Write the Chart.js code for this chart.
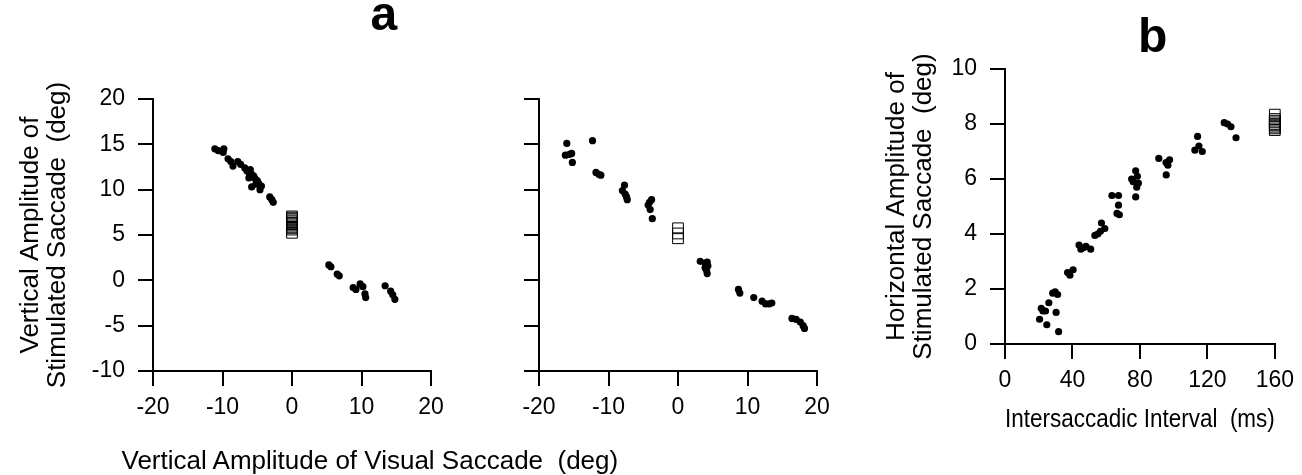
<!DOCTYPE html>
<html>
<head>
<meta charset="utf-8">
<script src="https://cdn.jsdelivr.net/npm/chart.js@4"></script>
<style>
  body { margin: 0; background: #fff; }
  #wrap { position: relative; width: 1302px; height: 475px; overflow: hidden; font-family: 'Liberation Sans', Arial, sans-serif; }
  canvas { position: absolute; top: 0; }
  .lbl { position: absolute; color: #000; white-space: nowrap; line-height: 1; }
</style>
</head>
<body>
<div id="wrap">
  <canvas id="aLeft" width="460" height="475" style="left:0"></canvas>
  <canvas id="aRight" width="400" height="475" style="left:460px"></canvas>
  <canvas id="bChart" width="442" height="475" style="left:860px"></canvas>
  <div class="lbl" id="titleA" style="top:-10px;font-size:48px;font-weight:bold">a</div>
  <div class="lbl" style="left:1138px;top:12px;font-size:48px;font-weight:bold">b</div>
  <div class="lbl" id="xTitleA" style="top:447px;font-size:26px">Vertical Amplitude of Visual Saccade&nbsp;&nbsp;(deg)</div>
</div>
<script>
// panel a, left: visual vs stimulated vertical amplitude (deg)
const aLeftX = [-11.1, -10.6, -9.8, -9.9, -9.2, -8.8, -8.5, -7.8, -7.4, -6.8, -6.5, -6.2, -6.0, -5.8, -5.5, -5.3, -6.2, -5.0, -4.8, -5.8, -4.6, -5.2, -4.4, -3.2, -2.9, -2.7,
  5.3, 5.6, 6.5, 6.8, 8.8, 9.2, 9.8, 10.2, 10.5, 10.6, 13.4, 14.2, 14.5, 14.8]
const aLeftY = [14.5, 14.3, 14.5, 14.1, 13.4, 13.1, 12.6, 13.1, 12.8, 12.4, 12.1, 11.9, 12.2, 11.7, 11.5, 11.2, 11.3, 11.0, 10.7, 10.3, 10.0, 10.6, 10.4, 9.2, 8.9, 8.6,
  1.7, 1.5, 0.7, 0.5, -0.8, -1.0, -0.4, -0.7, -1.5, -1.9, -0.6, -1.2, -1.6, -2.1]
const aLeftSquareY = [7.05, 6.92, 6.8, 6.62, 6.5, 6.33, 6.2, 6.05, 5.9, 5.78, 5.6, 5.24]

// panel a, right
const aRightX = [-16.0, -16.2, -15.6, -15.3, -15.2, -12.3, -11.8, -11.4, -11.1, -7.7, -8.0, -7.6, -7.4, -7.3, -3.8, -4.1, -4.3, -4.0, -3.7,
  3.2, 3.9, 4.2, 4.3, 3.9, 4.1, 4.2, 8.7, 8.9, 10.9, 12.1, 12.6, 13.1, 13.5, 16.4, 17.0, 17.6, 18.0, 18.2]
const aRightY = [15.1, 13.8, 13.9, 14.0, 13.0, 15.4, 11.9, 11.7, 11.6, 10.5, 9.9, 9.5, 9.2, 8.9, 8.9, 8.6, 8.3, 7.8, 6.8,
  2.1, 1.9, 2.0, 1.6, 1.4, 1.1, 0.75, -1.0, -1.4, -1.9, -2.3, -2.6, -2.6, -2.5, -4.2, -4.3, -4.6, -5.0, -5.3]
const aRightSquareY = [5.74, 5.17, 4.64]

// panel b: intersaccadic interval (ms) vs horizontal amplitude (deg)
const bX = [20.5, 21.5, 22.5, 24.0, 24.8, 26.0, 28.3, 29.7, 31.2, 30.3, 31.8, 37.1, 38.5, 40.4, 43.9, 45.0, 46.5, 48.0, 50.8, 53.3, 55.0, 56.6, 59.2, 57.2,
  63.4, 67.3, 66.4, 67.8, 67.3, 75.1, 77.5, 76.0, 79.1, 78.1, 77.5, 78.5, 91.2, 95.5, 97.6, 96.6, 95.6, 112.6, 114.2, 115.0, 117.0, 130.0, 132.0, 134.0, 137.0]
const bY = [0.9, 1.3, 1.2, 1.2, 0.7, 1.5, 1.85, 1.9, 1.8, 1.15, 0.45, 2.6, 2.5, 2.7, 3.6, 3.45, 3.5, 3.55, 3.45, 3.95, 4.0, 4.1, 4.2, 4.4,
  5.4, 5.4, 4.75, 4.7, 5.05, 6.0, 6.3, 5.9, 5.85, 5.7, 5.35, 6.1, 6.75, 6.6, 6.7, 6.5, 6.15, 7.05, 7.55, 7.2, 7.0, 8.05, 8.0, 7.9, 7.5]
const bSquareX = 160
const bSquareY = [7.78, 7.84, 7.9, 7.95, 8.0, 8.06, 8.12, 8.18, 8.34]

const font = { family: "'Liberation Sans', Arial, sans-serif", size: 23 }
const titleFont = { family: "'Liberation Sans', Arial, sans-serif", size: 26, lineHeight: '27.5px' }

const zip = (xs, ys) => xs.map((x, i) => ({ x, y: ys[i] }))

function dots(points) {
  return { data: points, pointRadius: 3.6, pointBackgroundColor: '#000', pointBorderWidth: 0, showLine: false, clip: false }
}
function squares(points) {
  return { data: points, pointStyle: 'rect', pointRadius: 7.6, pointBackgroundColor: 'rgba(0,0,0,0)', pointBorderColor: '#000', pointBorderWidth: 1, showLine: false, clip: false }
}

function axis(min, max, step, opts) {
  return {
    type: 'linear',
    min, max,
    ticks: { stepSize: step, color: '#000', font, padding: opts.pad, display: opts.labels !== false },
    grid: { drawOnChartArea: false, drawTicks: true, tickLength: 15, color: '#000', lineWidth: 2 },
    border: { display: true, color: '#000', width: 2 },
    title: opts.title || { display: false },
    afterFit: opts.fit,
  }
}

function makeChart(id, datasets, layout, xAxis, yAxis) {
  return new Chart(document.getElementById(id), {
    type: 'scatter',
    data: { datasets },
    options: {
      responsive: false,
      animation: false,
      layout: { padding: layout },
      plugins: { legend: { display: false }, tooltip: { enabled: false } },
      scales: { x: xAxis, y: yAxis },
    },
  })
}

makeChart('aLeft',
  [dots(zip(aLeftX, aLeftY)), squares(aLeftSquareY.map((y) => ({ x: 0, y })))],
  { left: 0, top: 99, right: 29, bottom: 0 },
  axis(-20, 20, 10, { pad: 8, fit: (s) => { s.height = 104 } }),
  axis(-10, 20, 5, {
    pad: 13,
    fit: (s) => { s.width = 153 },
    title: { display: true, text: ['Vertical Amplitude of', 'Stimulated Saccade  (deg)'], color: '#000', font: titleFont, padding: { top: 17 } },
  })
)

makeChart('aRight',
  [dots(zip(aRightX, aRightY)), squares(aRightSquareY.map((y) => ({ x: 0, y })))],
  { left: 0, top: 99, right: 43, bottom: 0 },
  axis(-20, 20, 10, { pad: 8, fit: (s) => { s.height = 104 } }),
  axis(-10, 20, 5, { pad: 13, labels: false, fit: (s) => { s.width = 79 } })
)

makeChart('bChart',
  [dots(zip(bX, bY)), squares(bSquareY.map((y) => ({ x: bSquareX, y })))],
  { left: 0, top: 69, right: 24, bottom: 0 },
  axis(0, 160, 40, {
    pad: 8,
    fit: (s) => { s.height = 131 },
    title: { display: true, text: 'Intersaccadic Interval  (ms)', color: '#000', font: { ...titleFont, lineHeight: 1.2 }, padding: { top: 4, bottom: 40 } },
  }),
  axis(0, 10, 2, {
    pad: 13,
    fit: (s) => { s.width = 145 },
    title: { display: true, text: ['Horizontal Amplitude of', 'Stimulated Saccade  (deg)'], color: '#000', font: titleFont, padding: { top: 23 } },
  })
)

// label "a" and the shared x title, placed under/over panel a
const centres = { titleA: 384, xTitleA: 370 }
for (const id in centres) {
  const el = document.getElementById(id)
  el.style.left = (centres[id] - el.offsetWidth / 2) + 'px'
}
</script>
</body>
</html>
